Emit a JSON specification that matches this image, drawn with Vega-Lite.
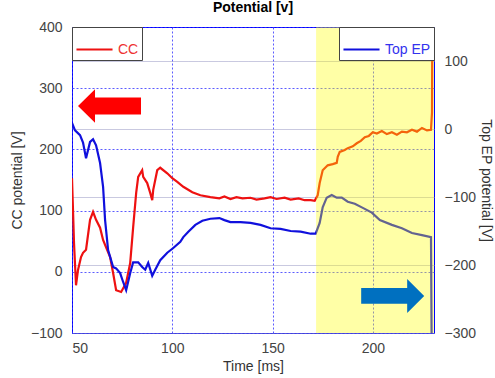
{
  "$schema": "https://vega.github.io/schema/vega-lite/v6.json",
  "width": 362,
  "height": 306,
  "autosize": {"type": "none"},
  "padding": {"left": 72, "top": 27, "right": 61, "bottom": 45},
  "background": "white",
  "config": {
    "font": "Liberation Sans",
    "view": {"stroke": "#0000ff", "strokeWidth": 1},
    "axis": {
      "labelFontSize": 14, "labelColor": "#444444", "labelFont": "Liberation Sans",
      "titleFontSize": 14, "titleFontWeight": "normal", "titleColor": "#333333", "titleFont": "Liberation Sans",
      "ticks": false, "domain": false
    }
  },
  "title": {"text": "Potential [v]", "fontSize": 14, "fontWeight": "bold", "color": "#000000", "offset": 5, "font": "Liberation Sans"},
  "datasets": {
    "cc": [
      {"t":50,"v":153},{"t":50.5,"v":101},{"t":51,"v":47},{"t":52,"v":-22},{"t":53,"v":3},{"t":54.5,"v":24},{"t":55.5,"v":31},{"t":57,"v":36},{"t":59,"v":85},{"t":60.5,"v":98},{"t":62,"v":85},{"t":64,"v":72},{"t":65.5,"v":52},{"t":67,"v":40},{"t":69,"v":24},{"t":70.5,"v":-2},{"t":72,"v":-30},{"t":74.5,"v":-33},{"t":77,"v":-18},{"t":79,"v":14},{"t":80.5,"v":73},{"t":82,"v":129},{"t":83,"v":155},{"t":85,"v":166},{"t":85.5,"v":155},{"t":87.5,"v":145},{"t":89,"v":129},{"t":90,"v":117},{"t":90.5,"v":134},{"t":92.5,"v":166},{"t":94,"v":170},{"t":97.5,"v":161},{"t":100,"v":153},{"t":102.5,"v":147},{"t":105.5,"v":139},{"t":110,"v":130},{"t":114,"v":125},{"t":119,"v":122},{"t":123.5,"v":120},{"t":126,"v":123},{"t":129,"v":119},{"t":132,"v":122},{"t":135,"v":120},{"t":139,"v":121},{"t":142,"v":118},{"t":146,"v":120},{"t":149,"v":122},{"t":152,"v":119},{"t":156,"v":121},{"t":159,"v":118},{"t":163,"v":120},{"t":166,"v":117},{"t":169,"v":117},{"t":171,"v":116},{"t":172.5,"v":125},{"t":173.5,"v":145},{"t":175,"v":166},{"t":177.5,"v":174},{"t":180,"v":176},{"t":182,"v":178},{"t":182.5,"v":188},{"t":183.5,"v":196},{"t":186,"v":199},{"t":187.5,"v":202},{"t":190,"v":205},{"t":192,"v":210},{"t":194,"v":214},{"t":196,"v":220},{"t":198,"v":222},{"t":200,"v":228},{"t":202,"v":226},{"t":204.5,"v":230},{"t":207,"v":225},{"t":209.5,"v":228},{"t":212,"v":224},{"t":214.5,"v":229},{"t":217,"v":228},{"t":219.5,"v":232},{"t":222,"v":229},{"t":224.5,"v":235},{"t":227,"v":231},{"t":229,"v":232},{"t":229.5,"v":260},{"t":229.6,"v":346}
    ],
    "ep": [
      {"t":50,"v":9},{"t":51.5,"v":-2},{"t":54,"v":-9},{"t":55.5,"v":-20},{"t":57,"v":-43},{"t":59,"v":-19},{"t":60.5,"v":-15},{"t":62,"v":-24},{"t":64,"v":-50},{"t":65.5,"v":-85},{"t":66.5,"v":-134},{"t":68,"v":-178},{"t":70.5,"v":-203},{"t":72,"v":-205},{"t":74,"v":-212},{"t":75.5,"v":-225},{"t":77,"v":-237},{"t":79,"v":-212},{"t":80.5,"v":-196},{"t":83,"v":-196},{"t":85,"v":-203},{"t":86.5,"v":-207},{"t":88,"v":-197},{"t":90,"v":-216},{"t":91.5,"v":-207},{"t":94,"v":-193},{"t":97.5,"v":-182},{"t":100.5,"v":-175},{"t":104,"v":-166},{"t":105.5,"v":-159},{"t":108,"v":-151},{"t":111.5,"v":-141},{"t":115,"v":-135},{"t":119,"v":-132},{"t":123.5,"v":-131},{"t":126,"v":-134},{"t":129,"v":-137},{"t":134,"v":-137},{"t":139,"v":-138},{"t":144,"v":-141},{"t":149,"v":-146},{"t":154,"v":-147},{"t":159,"v":-150},{"t":164,"v":-151},{"t":169,"v":-154},{"t":171.5,"v":-154},{"t":173.5,"v":-138},{"t":175,"v":-115},{"t":177,"v":-101},{"t":179.5,"v":-97},{"t":182,"v":-101},{"t":184.5,"v":-101},{"t":187.5,"v":-107},{"t":191,"v":-110},{"t":195,"v":-116},{"t":199.5,"v":-123},{"t":203.5,"v":-134},{"t":209.5,"v":-141},{"t":214.5,"v":-146},{"t":219.5,"v":-153},{"t":224.5,"v":-156},{"t":229,"v":-159},{"t":229.3,"v":-300}
    ],
    "band": [{"t0": 171.7, "t1": 230.5}],
    "arrows": [{"t": 68.7, "v": 271, "dir": "left"}, {"t": 209.9, "v": -39.5, "dir": "right"}]
  },
  "layer": [
    {
      "data": {"name": "cc"},
      "mark": {"type": "line", "strokeWidth": 2.2, "clip": true},
      "encoding": {
        "x": {"field": "t", "type": "quantitative", "scale": {"domain": [50, 230.5], "nice": false, "zero": false},
              "axis": {"values": [50, 100, 150, 200], "title": "Time [ms]", "grid": true, "gridColor": "#3333ff", "gridDash": [2, 2], "gridOpacity": 0.8, "labelPadding": 8, "titlePadding": 4}},
        "y": {"field": "v", "type": "quantitative", "scale": {"domain": [-100, 400], "nice": false, "zero": false},
              "axis": {"orient": "left", "values": [-100, 0, 100, 200, 300, 400], "title": "CC  potential [V]", "grid": true, "gridColor": "#3333ff", "gridDash": [2, 2], "gridOpacity": 0.8, "labelPadding": 10, "titlePadding": 6}},
        "color": {"datum": "CC", "scale": {"domain": ["CC"], "range": ["#ee1111"]},
                  "legend": {"orient": "top-left", "offset": 0, "title": null, "symbolType": "stroke", "symbolSize": 1300, "symbolStrokeWidth": 2, "labelColor": "#ee3333", "labelFontSize": 14, "strokeColor": "#444444", "fillColor": "white", "padding": 3, "labelOffset": 4}}
      }
    },
    {
      "data": {"name": "ep"},
      "mark": {"type": "line", "strokeWidth": 2.2, "clip": true},
      "encoding": {
        "x": {"field": "t", "type": "quantitative"},
        "y": {"field": "v", "type": "quantitative", "scale": {"domain": [-300, 150], "nice": false, "zero": false},
              "axis": {"orient": "right", "values": [-300, -200, -100, 0, 100], "title": "Top EP  potential [V]", "titleAngle": 90, "grid": true, "gridColor": "#8888bb", "gridDash": [1, 1], "gridOpacity": 0.9, "labelPadding": 10, "titlePadding": 3}},
        "color": {"datum": "Top EP", "scale": {"domain": ["Top EP"], "range": ["#1010dd"]},
                  "legend": {"orient": "top-right", "offset": 0, "title": null, "symbolType": "stroke", "symbolSize": 1300, "symbolStrokeWidth": 2, "labelColor": "#3333ee", "labelFontSize": 14, "strokeColor": "#444444", "fillColor": "white", "padding": 3, "labelOffset": 4}}
      }
    },
    {
      "data": {"name": "band"},
      "mark": {"type": "rect", "color": "#ffff00", "opacity": 0.35},
      "encoding": {
        "x": {"field": "t0", "type": "quantitative"},
        "x2": {"field": "t1"}
      }
    },
    {
      "data": {"name": "arrows"},
      "mark": {"type": "point", "filled": true, "opacity": 1, "strokeWidth": 0},
      "encoding": {
        "x": {"field": "t", "type": "quantitative"},
        "y": {"field": "v", "type": "quantitative", "scale": {"domain": [-100, 400], "nice": false, "zero": false}, "axis": null},
        "shape": {"field": "dir", "type": "nominal", "scale": {"domain": ["left", "right"], "range": ["M-1,0L-0.46,-0.53L-0.46,-0.27L1,-0.27L1,0.27L-0.46,0.27L-0.46,0.53Z", "M1,0L0.46,-0.54L0.46,-0.25L-1,-0.25L-1,0.25L0.46,0.25L0.46,0.54Z"]}, "legend": null},
        "color": {"field": "dir", "type": "nominal", "scale": {"domain": ["left", "right"], "range": ["#ff0000", "#0070c0"]}, "legend": null},
        "size": {"value": 3969}
      }
    }
  ],
  "resolve": {"scale": {"y": "independent", "color": "independent", "shape": "independent"}, "legend": {"color": "independent"}}
}
